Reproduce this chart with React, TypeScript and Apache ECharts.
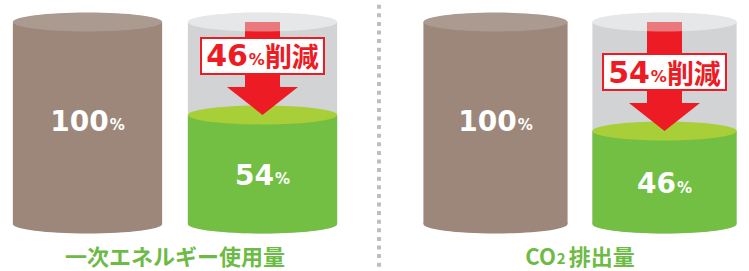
import React, { useEffect, useRef } from "react";
import * as echarts from "echarts";

const CATEGORIES = ["基準", "削減後"];
const TITLES = ["一次エネルギー使用量", "{a|CO}{s|2}{a|排出量}"];
const BASE_VALUES = [100, 100];
const AFTER_VALUES = [54, 46];
const REDUCTION_VALUES = [46, 54];

const BROWN = { body: "#9c877a", lid: "#aa9a90" };
const GRAY = { body: "#d1d3d4", lid: "#e6e7e8" };
const GREEN = { body: "#72bf44", lid: "#a8cf38" };
const RED = "#ed1c24";
const TITLE_GREEN = "#6dbb45";
const BAR_RATIO = 151 / 177;
const RY = 9.5;

const NUM_FONT = "DejaVu Sans";
const CJK_FONT = "Noto Sans CJK JP";

function cylinder(colors: { body: string; lid: string }, labelColor: string | null, labelOffset: number) {
  return (params: any, api: any) => {
    const cat = api.value(0);
    const v = api.value(1);
    const top = api.coord([cat, v]);
    const bot = api.coord([cat, 0]);
    const mid = api.coord([cat, v / 2]);
    const bw = api.size([1, 0])[0] * BAR_RATIO;
    const children: any[] = [
      { type: "ellipse", shape: { cx: bot[0], cy: bot[1], rx: bw / 2, ry: RY }, style: { fill: colors.body } },
      { type: "rect", shape: { x: top[0] - bw / 2, y: top[1], width: bw, height: bot[1] - top[1] }, style: { fill: colors.body } },
      { type: "ellipse", shape: { cx: top[0], cy: top[1], rx: bw / 2, ry: RY }, style: { fill: colors.lid } },
    ];
    if (labelColor) {
      children.push({
        type: "text",
        x: mid[0],
        y: mid[1] + labelOffset,
        style: {
          text: `{n|${v}}{p|%}`,
          align: "center",
          verticalAlign: "middle",
          rich: {
            n: { fontFamily: NUM_FONT, fontWeight: "bold", fontSize: 28, fill: labelColor },
            p: { fontFamily: NUM_FONT, fontWeight: "bold", fontSize: 15, fill: labelColor, padding: [8, 0, 0, 1] },
          },
        },
      });
    }
    return { type: "group", children };
  };
}

function arrow(params: any, api: any) {
  const cat = api.value(0);
  const after = api.value(1);
  const red = api.value(2);
  const top = api.coord([cat, after + red]);
  const tip = api.coord([cat, after]);
  const bw = api.size([1, 0])[0] * BAR_RATIO;
  const cx = tip[0];
  const headH = 28;
  const headHalf = 35.5;
  const stemHalf = 17.5;
  const baseY = tip[1] - headH;
  const boxCy = tip[1] - 59;
  return {
    type: "group",
    children: [
      { type: "rect", shape: { x: cx - stemHalf, y: top[1], width: stemHalf * 2, height: baseY - top[1] + 1 }, style: { fill: RED } },
      {
        type: "polygon",
        shape: { points: [[cx - headHalf, baseY], [cx + headHalf, baseY], [cx, tip[1]]] },
        style: { fill: RED },
      },
      { type: "ellipse", shape: { cx: top[0], cy: top[1], rx: bw / 2, ry: RY }, style: { fill: "rgba(232,232,233,0.46)" } },
      {
        type: "rect",
        shape: { x: cx - 61.5, y: boxCy - 18, width: 123, height: 36 },
        style: { fill: "#ffffff", stroke: RED, lineWidth: 2 },
      },
      {
        type: "text",
        x: cx,
        y: boxCy,
        style: {
          text: `{n|${red}}{p|%}{k|削減}`,
          align: "center",
          verticalAlign: "middle",
          rich: {
            n: { fontFamily: NUM_FONT, fontWeight: "bold", fontSize: 30, fill: RED },
            p: { fontFamily: NUM_FONT, fontWeight: "bold", fontSize: 16, fill: RED, padding: [8, 0, 0, 1] },
            k: { fontFamily: CJK_FONT, fontWeight: "bold", fontSize: 27, fill: RED },
          },
        },
      },
    ],
  };
}

export default function App() {
  const ref = useRef<HTMLDivElement>(null);
  useEffect(() => {
    document.body.style.margin = "0";
    const chart = echarts.init(ref.current!, null, { renderer: "svg" });
    const grids = [
      { left: -4, top: 22, width: 354, height: 208 },
      { left: 411, top: 22, width: 354, height: 208 },
    ];
    const xAxis = TITLES.map((t, i) => ({
      type: "category",
      gridIndex: i,
      data: CATEGORIES,
      name: t,
      nameLocation: "middle",
      nameGap: 20,
      nameTextStyle: {
        color: TITLE_GREEN,
        fontFamily: CJK_FONT,
        fontWeight: "bold",
        fontSize: 22,
        verticalAlign: "top",
        rich: {
          a: { color: TITLE_GREEN, fontFamily: CJK_FONT, fontWeight: "bold", fontSize: 22 },
          s: { color: TITLE_GREEN, fontFamily: CJK_FONT, fontWeight: "bold", fontSize: 15, padding: [5, 3, 0, 1] },
        },
      },
      axisLine: { show: false },
      axisTick: { show: false },
      axisLabel: { show: false },
      splitLine: { show: false },
    }));
    const yAxis = TITLES.map((_, i) => ({
      type: "value",
      gridIndex: i,
      min: 0,
      max: 100,
      show: false,
    }));
    const series: any[] = [];
    TITLES.forEach((_, i) => {
      series.push({
        type: "custom",
        name: CATEGORIES[0],
        xAxisIndex: i,
        yAxisIndex: i,
        renderItem: cylinder(BROWN, "#ffffff", -2),
        data: [[0, BASE_VALUES[i]]],
      });
      series.push({
        type: "custom",
        name: "容器",
        xAxisIndex: i,
        yAxisIndex: i,
        renderItem: cylinder(GRAY, null, 0),
        data: [[1, BASE_VALUES[i]]],
      });
      series.push({
        type: "custom",
        name: CATEGORIES[1],
        xAxisIndex: i,
        yAxisIndex: i,
        renderItem: cylinder(GREEN, "#ffffff", 6),
        data: [[1, AFTER_VALUES[i]]],
      });
      series.push({
        type: "custom",
        name: "削減",
        xAxisIndex: i,
        yAxisIndex: i,
        renderItem: arrow,
        data: [[1, AFTER_VALUES[i], REDUCTION_VALUES[i]]],
      });
    });
    chart.setOption({
      animation: false,
      backgroundColor: "#ffffff",
      grid: grids,
      xAxis,
      yAxis,
      series,
      graphic: [
        {
          type: "line",
          shape: { x1: 379, y1: 4.7, x2: 379, y2: 271 },
          style: { stroke: "#bcbec0", lineWidth: 4, lineDash: [4, 4.6] },
        },
      ],
    });
    return () => chart.dispose();
  }, []);
  return <div ref={ref} style={{ width: 749, height: 271 }} />;
}
